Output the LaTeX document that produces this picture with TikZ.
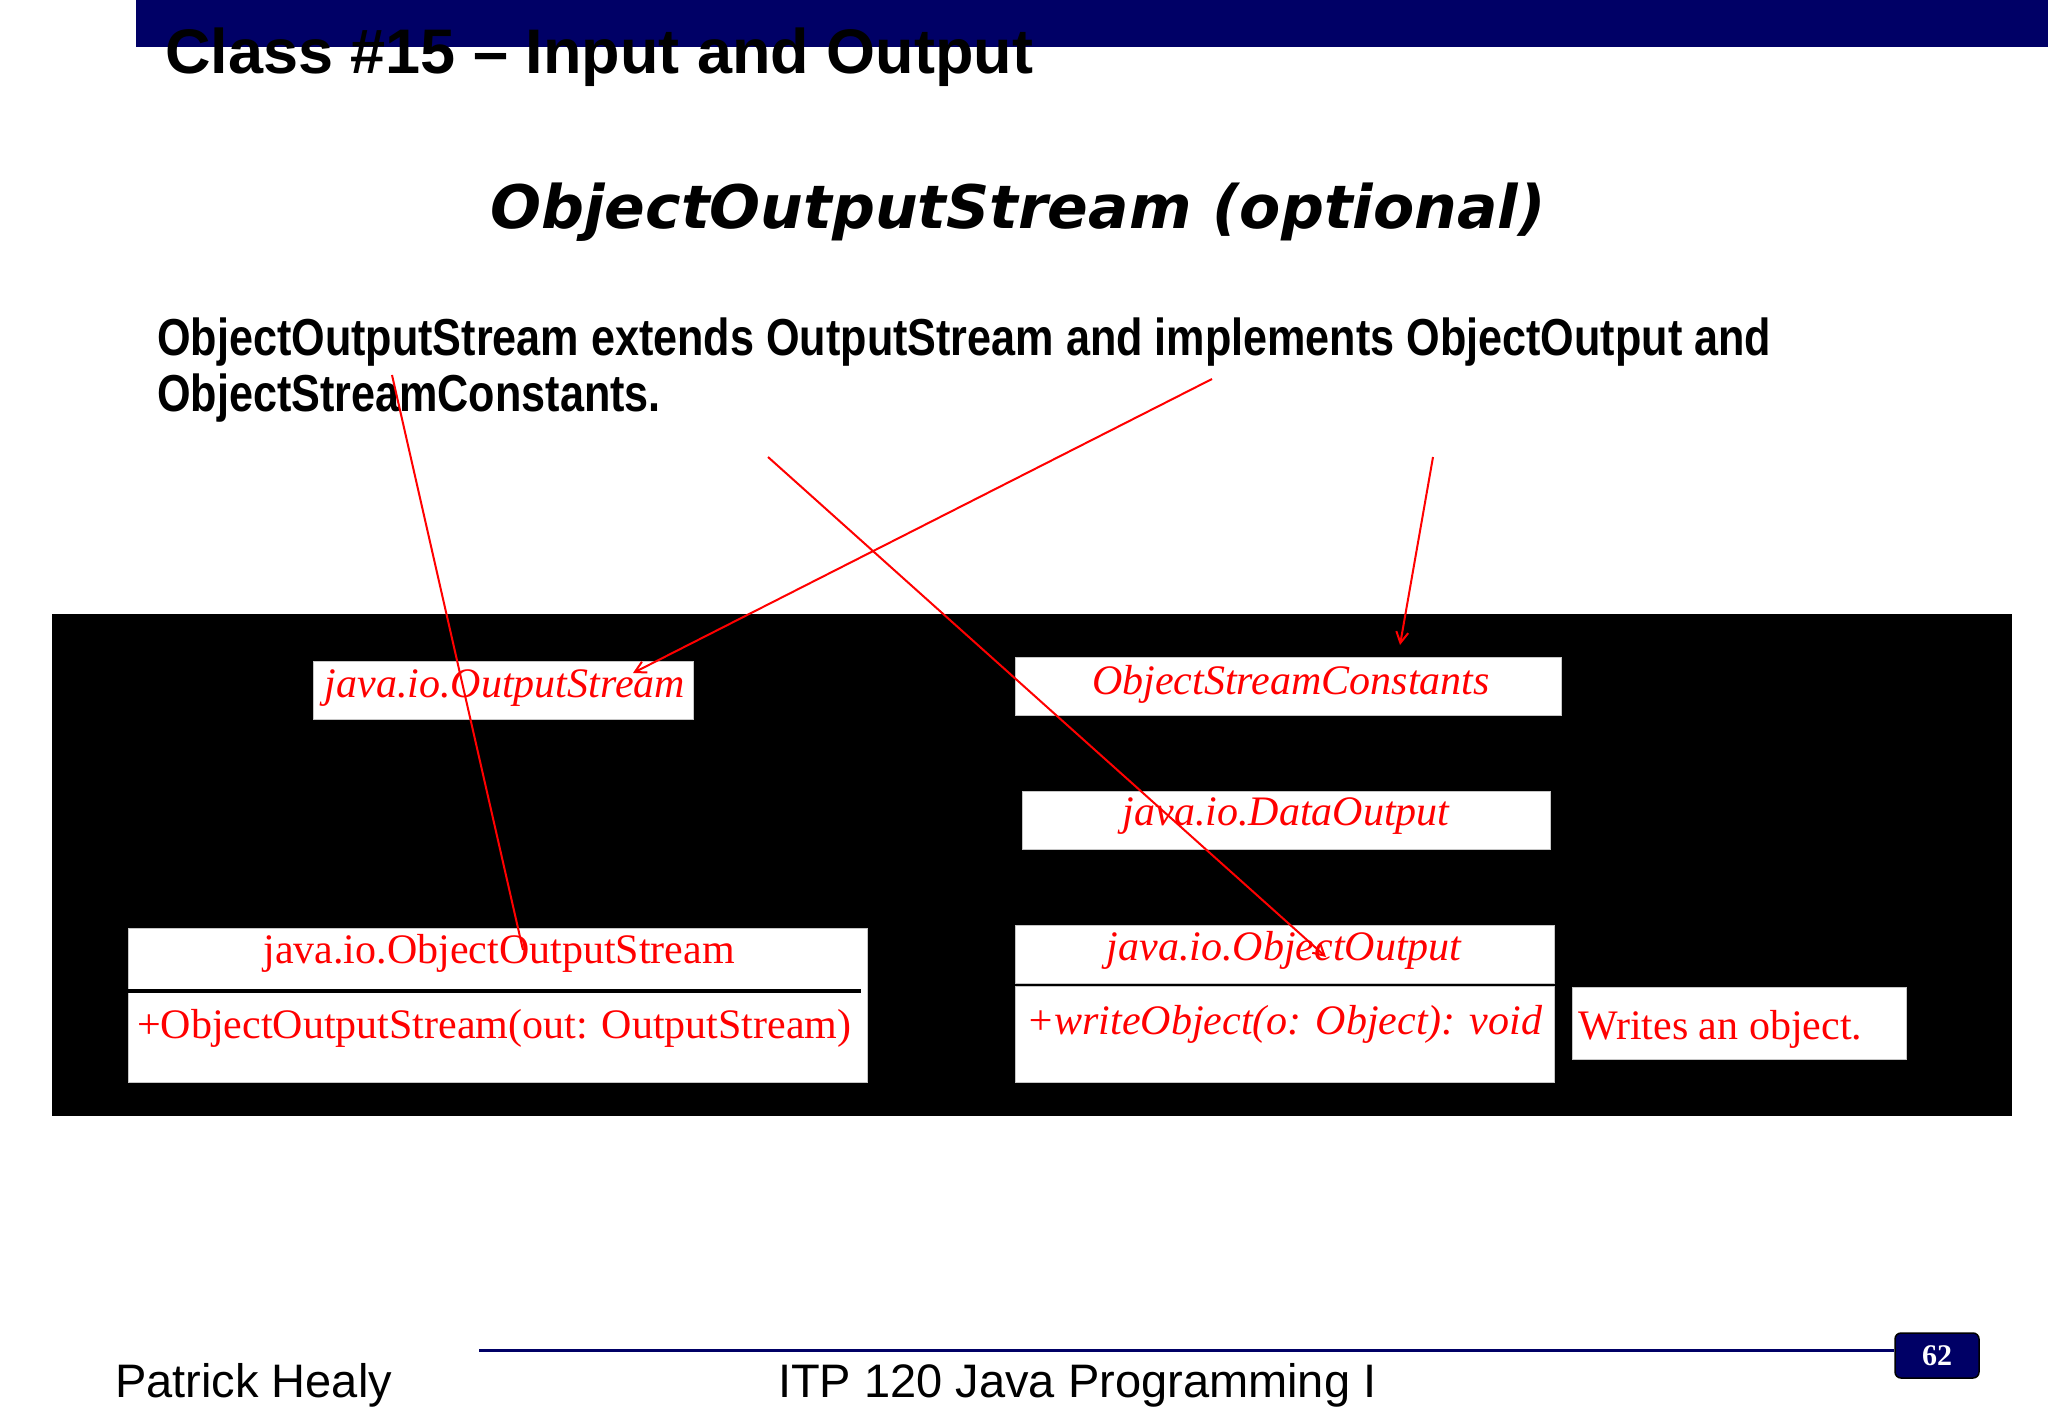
\documentclass[tikz,border=0pt]{standalone}
\usepackage{fontspec}
\setmainfont{Liberation Serif}
\newfontfamily\arialfont{Liberation Sans}
\newfontfamily\arialnarrow[FakeStretch=0.830]{Liberation Sans}
\newfontfamily\verdanafont{DejaVu Sans}
\newfontfamily\timesfont{Liberation Serif}
\usetikzlibrary{arrows.meta}
\definecolor{navy}{HTML}{000066}
\newcommand\umlsize{\fontsize{42}{50}\selectfont}
\begin{document}
\begin{tikzpicture}[x=1pt,y=-1pt,
  whitebox/.style={draw=gray!45, line width=1pt, fill=white, inner sep=0pt},
  umltext/.style={inner sep=0pt, anchor=base, text=red, font=\timesfont\umlsize},
  umlital/.style={umltext, font=\timesfont\itshape\umlsize},
  redplain/.style={red, line width=2pt},
  redline/.style={redplain, -{Straight Barb[length=11pt,width=12pt]}},
  bodytext/.style={inner sep=0pt, anchor=base west, font=\arialnarrow\bfseries\fontsize{52}{56}\selectfont},
  foottext/.style={inner sep=0pt, anchor=base west, font=\arialfont\fontsize{47}{55}\selectfont}
]
\useasboundingbox (0,0) rectangle (2048,1418);
\fill[white] (0,0) rectangle (2048,1418);

% header bar and titles
\fill[navy] (136,0) rectangle (2048,47);
\node[inner sep=0pt, anchor=base west, font=\arialfont\bfseries\fontsize{63}{70}\selectfont] (title) at (165,74) {Class \#15 – Input and Output};
\node[inner sep=0pt, anchor=base, font=\verdanafont\bfseries\itshape\fontsize{60}{72}\selectfont] (subtitle) at (1018,228) {ObjectOutputStream (optional)};

% body text
\node[bodytext] (line1) at (157,355) {ObjectOutputStream extends OutputStream and implements ObjectOutput and};
\node[bodytext] (line2) at (157,411) {ObjectStreamConstants.};

% black panel
\fill[black] (52,614) rectangle (2012,1116);

% boxes
\node[whitebox, minimum width=380pt, minimum height=58pt] (osbox) at (503,690) {};
\node[whitebox, minimum width=546pt, minimum height=58pt] (oscbox) at (1288,686) {};
\node[whitebox, minimum width=528pt, minimum height=58pt] (dobox) at (1286,820) {};
\node[whitebox, minimum width=539pt, minimum height=58pt] (oobox) at (1284.5,954) {};
\node[whitebox, minimum width=539pt, minimum height=96pt] (oombox) at (1284.5,1034) {};
\node[whitebox, minimum width=334pt, minimum height=72pt] (wrbox) at (1739,1023) {};
\node[whitebox, minimum width=739pt, minimum height=154pt] (oosbox) at (497.5,1005) {};
\draw[black, line width=4pt] (oosbox.west |- 0,991) -- (861,991);

% box texts
\node[umlital] (tos) at (505,697) {java.io.OutputStream};
\node[umlital] (tosc) at (1291,694) {ObjectStreamConstants};
\node[umlital] (tdo) at (1286,825) {java.io.DataOutput};
\node[umlital] (too) at (1284,960) {java.io.ObjectOutput};
\node[umlital, anchor=base west] (toom) at (1026,1034) {+writeObject(o: Object): void};
\node[umltext] (toos) at (499,963) {java.io.ObjectOutputStream};
\node[umltext, anchor=base west] (toosm) at (137,1038) {+ObjectOutputStream(out: OutputStream)};
\node[umltext, anchor=base west] (twr) at (1578,1039) {Writes an object.};

% red connectors
\coordinate (s1) at (392,375);  \coordinate (e1) at (523,950);
\coordinate (s2) at (1212,379); \coordinate (e2) at (633,673);
\coordinate (s3) at (768,457);  \coordinate (e3) at (1326,957);
\coordinate (s4) at (1433,457); \coordinate (e4) at (1400,645);
\draw[redplain] (s1) -- (e1);
\draw[redline] (s2) -- (e2);
\draw[redline] (s3) -- (e3);
\draw[redline] (s4) -- (e4);

% footer
\node[draw=black, fill=navy, rounded corners=6pt, line width=1.5pt, minimum width=84pt, minimum height=45pt, inner sep=0pt, text=white, font=\timesfont\bfseries\fontsize{30}{34}\selectfont] (pg) at (1937,1355.5) {62};
\coordinate (fl) at (479,1350);
\draw[navy, line width=3pt] (fl) -- (fl -| pg.west);
\node[foottext] (author) at (115,1397) {Patrick Healy};
\node[foottext] (course) at (778,1397) {ITP 120 Java Programming I};
\end{tikzpicture}
\end{document}
